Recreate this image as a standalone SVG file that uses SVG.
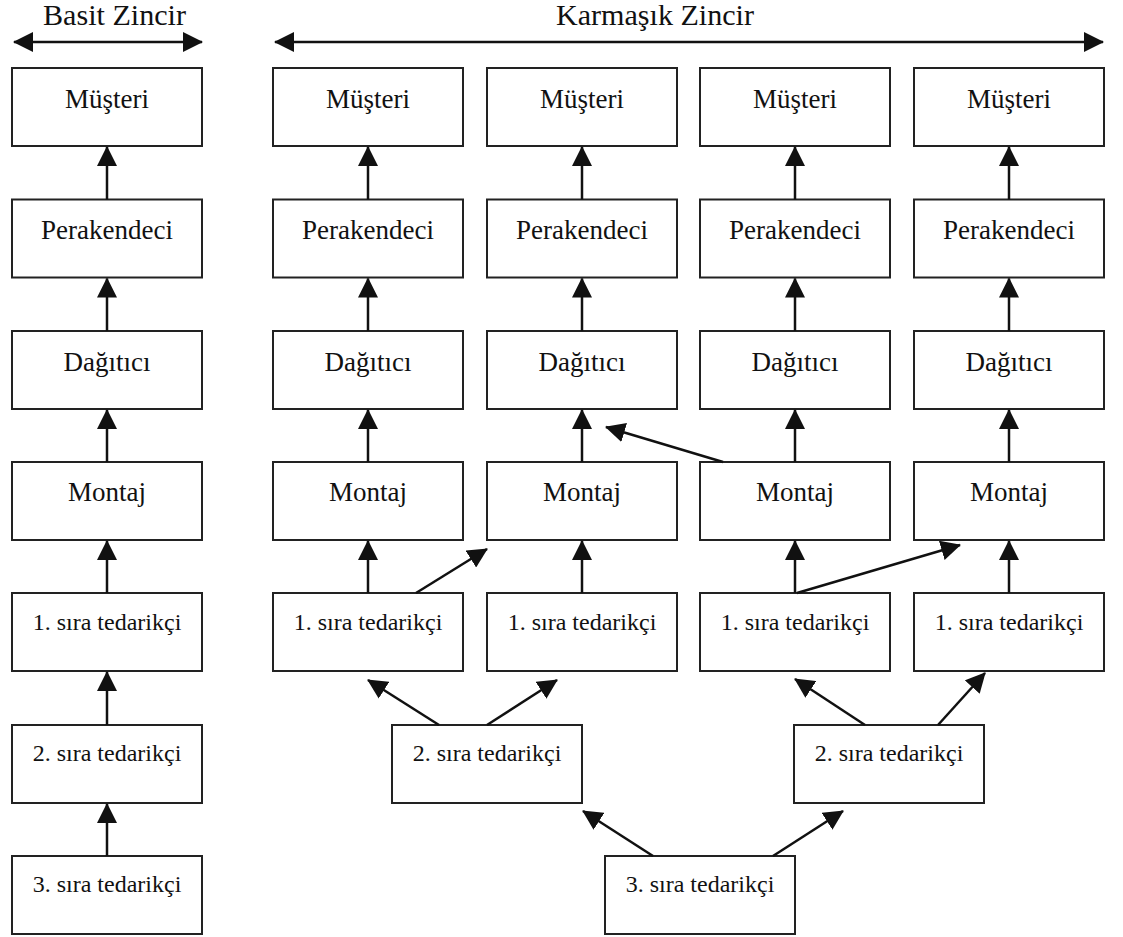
<svg xmlns="http://www.w3.org/2000/svg" width="1123" height="937" viewBox="0 0 1123 937" font-family="'Liberation Serif', 'DejaVu Serif', serif">
<style>
.box{fill:#fff;stroke:#222;stroke-width:2}
.t{font-size:27px;fill:#111;text-anchor:middle}
.s{font-size:24px;fill:#111;text-anchor:middle}
.title{font-size:30px;fill:#111}
.c line{stroke:#111;stroke-width:2.5;marker-end:url(#ah)}
</style>
<defs>
<marker id="ah" markerUnits="userSpaceOnUse" viewBox="0 0 20 20" markerWidth="20" markerHeight="20" refX="19" refY="10" orient="auto-start-reverse">
<path d="M0,0 L20,10 L0,20 z" fill="#111"/>
</marker>
</defs>
<rect width="1123" height="937" fill="#fff"/>
<g id="titles">
<text class="title" x="43" y="25" textLength="143" lengthAdjust="spacingAndGlyphs">Basit Zincir</text>
<text class="title" x="556" y="25" textLength="198" lengthAdjust="spacingAndGlyphs">Karmaşık Zincir</text>
</g>
<g id="simple-col">
<g id="s0"><rect class="box" x="12" y="68" width="190" height="78"/><text class="t" x="107" y="107.5">Müşteri</text></g>
<g id="s1"><rect class="box" x="12" y="199.5" width="190" height="78"/><text class="t" x="107" y="239">Perakendeci</text></g>
<g id="s2"><rect class="box" x="12" y="331" width="190" height="78"/><text class="t" x="107" y="370.5">Dağıtıcı</text></g>
<g id="s3"><rect class="box" x="12" y="462" width="190" height="78"/><text class="t" x="107" y="501">Montaj</text></g>
<g id="s4"><rect class="box" x="12" y="593" width="190" height="78"/><text class="s" x="107" y="630">1. sıra tedarikçi</text></g>
<g id="s5"><rect class="box" x="12" y="725" width="190" height="78"/><text class="s" x="107" y="761">2. sıra tedarikçi</text></g>
<g id="s6"><rect class="box" x="12" y="856" width="190" height="78"/><text class="s" x="107" y="892">3. sıra tedarikçi</text></g>
</g>
<g id="complex">
<g id="c1m"><rect class="box" x="273" y="68" width="190" height="78"/><text class="t" x="368" y="107.5">Müşteri</text></g>
<g id="c2m"><rect class="box" x="487" y="68" width="190" height="78"/><text class="t" x="582" y="107.5">Müşteri</text></g>
<g id="c3m"><rect class="box" x="700" y="68" width="190" height="78"/><text class="t" x="795" y="107.5">Müşteri</text></g>
<g id="c4m"><rect class="box" x="914" y="68" width="190" height="78"/><text class="t" x="1009" y="107.5">Müşteri</text></g>
<g id="c1p"><rect class="box" x="273" y="199.5" width="190" height="78"/><text class="t" x="368" y="239">Perakendeci</text></g>
<g id="c2p"><rect class="box" x="487" y="199.5" width="190" height="78"/><text class="t" x="582" y="239">Perakendeci</text></g>
<g id="c3p"><rect class="box" x="700" y="199.5" width="190" height="78"/><text class="t" x="795" y="239">Perakendeci</text></g>
<g id="c4p"><rect class="box" x="914" y="199.5" width="190" height="78"/><text class="t" x="1009" y="239">Perakendeci</text></g>
<g id="c1d"><rect class="box" x="273" y="331" width="190" height="78"/><text class="t" x="368" y="370.5">Dağıtıcı</text></g>
<g id="c2d"><rect class="box" x="487" y="331" width="190" height="78"/><text class="t" x="582" y="370.5">Dağıtıcı</text></g>
<g id="c3d"><rect class="box" x="700" y="331" width="190" height="78"/><text class="t" x="795" y="370.5">Dağıtıcı</text></g>
<g id="c4d"><rect class="box" x="914" y="331" width="190" height="78"/><text class="t" x="1009" y="370.5">Dağıtıcı</text></g>
<g id="c1a"><rect class="box" x="273" y="462" width="190" height="78"/><text class="t" x="368" y="501">Montaj</text></g>
<g id="c2a"><rect class="box" x="487" y="462" width="190" height="78"/><text class="t" x="582" y="501">Montaj</text></g>
<g id="c3a"><rect class="box" x="700" y="462" width="190" height="78"/><text class="t" x="795" y="501">Montaj</text></g>
<g id="c4a"><rect class="box" x="914" y="462" width="190" height="78"/><text class="t" x="1009" y="501">Montaj</text></g>
<g id="c1t1"><rect class="box" x="273" y="593" width="190" height="78"/><text class="s" x="368" y="630">1. sıra tedarikçi</text></g>
<g id="c2t1"><rect class="box" x="487" y="593" width="190" height="78"/><text class="s" x="582" y="630">1. sıra tedarikçi</text></g>
<g id="c3t1"><rect class="box" x="700" y="593" width="190" height="78"/><text class="s" x="795" y="630">1. sıra tedarikçi</text></g>
<g id="c4t1"><rect class="box" x="914" y="593" width="190" height="78"/><text class="s" x="1009" y="630">1. sıra tedarikçi</text></g>
<g id="t2a"><rect class="box" x="392" y="725" width="190" height="78"/><text class="s" x="487" y="761">2. sıra tedarikçi</text></g>
<g id="t2b"><rect class="box" x="794" y="725" width="190" height="78"/><text class="s" x="889" y="761">2. sıra tedarikçi</text></g>
<g id="t3"><rect class="box" x="605" y="856" width="190" height="78"/><text class="s" x="700" y="892">3. sıra tedarikçi</text></g>
</g>
<g id="connectors" class="c">
<line x1="14" y1="42" x2="202" y2="42" style="marker-start:url(#ah)"/>
<line x1="275" y1="42" x2="1103" y2="42" style="marker-start:url(#ah)"/>
<line x1="107" y1="199.5" x2="107" y2="147"/>
<line x1="107" y1="331" x2="107" y2="278.5"/>
<line x1="107" y1="462" x2="107" y2="410"/>
<line x1="107" y1="593" x2="107" y2="541"/>
<line x1="107" y1="725" x2="107" y2="672"/>
<line x1="107" y1="856" x2="107" y2="804"/>
<line x1="368" y1="199.5" x2="368" y2="147"/>
<line x1="368" y1="331" x2="368" y2="278.5"/>
<line x1="368" y1="462" x2="368" y2="410"/>
<line x1="368" y1="593" x2="368" y2="541"/>
<line x1="582" y1="199.5" x2="582" y2="147"/>
<line x1="582" y1="331" x2="582" y2="278.5"/>
<line x1="582" y1="462" x2="582" y2="410"/>
<line x1="582" y1="593" x2="582" y2="541"/>
<line x1="795" y1="199.5" x2="795" y2="147"/>
<line x1="795" y1="331" x2="795" y2="278.5"/>
<line x1="795" y1="462" x2="795" y2="410"/>
<line x1="795" y1="593" x2="795" y2="541"/>
<line x1="1009" y1="199.5" x2="1009" y2="147"/>
<line x1="1009" y1="331" x2="1009" y2="278.5"/>
<line x1="1009" y1="462" x2="1009" y2="410"/>
<line x1="1009" y1="593" x2="1009" y2="541"/>
<line x1="416" y1="593" x2="487" y2="549"/>
<line x1="723" y1="462" x2="606" y2="427"/>
<line x1="797" y1="593" x2="960" y2="545"/>
<line x1="439" y1="725" x2="368" y2="680"/>
<line x1="487" y1="725" x2="557" y2="680"/>
<line x1="865" y1="725" x2="795" y2="679"/>
<line x1="938" y1="725" x2="985" y2="673"/>
<line x1="653" y1="856" x2="583" y2="811"/>
<line x1="773" y1="856" x2="843" y2="811"/>
</g>
</svg>
